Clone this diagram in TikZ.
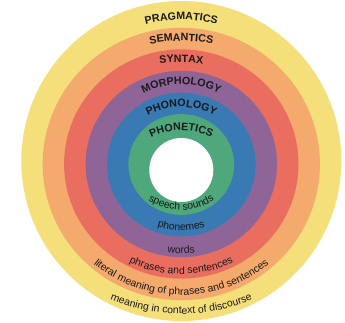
\documentclass[tikz,border=0pt]{standalone}
\usepackage{fontspec}
\setmainfont{Liberation Sans}
\usetikzlibrary{decorations.text}
\definecolor{cYellow}{HTML}{F5DF7A}
\definecolor{cOrange}{HTML}{F4A96D}
\definecolor{cRed}{HTML}{E96E5F}
\definecolor{cPurple}{HTML}{8F6598}
\definecolor{cBlue}{HTML}{3979B4}
\definecolor{cGreen}{HTML}{4EA87B}
\definecolor{labeltext}{HTML}{1A1A1A}
\newcommand\TopFont{\fontsize{10.7}{12}\selectfont\bfseries}
\newcommand\BotFont{\fontsize{10.4}{12}\selectfont}
% #1 arc centre y, #2 radius, #3 half angle, #4 text
\newcommand\TopArcLabel[4]{%
  \path[decorate,decoration={text along path,text align=center,text color=labeltext,
    text={|\TopFont|#4}}]
    (181.3,#1) ++(90+#3:#2) arc[start angle=90+#3,end angle=90-#3,radius=#2];}
\newcommand\BotArcLabel[4]{%
  \path[decorate,decoration={text along path,text align=center,text color=labeltext,
    text={|\BotFont|#4}}]
    (181.3,#1) ++(270-#3:#2) arc[start angle=270-#3,end angle=270+#3,radius=#2];}
\begin{document}
\begin{tikzpicture}[x=1pt,y=1pt]
\useasboundingbox (0,0) rectangle (345,322);
\fill[cYellow] (181.3,161) circle[radius=160];
\fill[cOrange] (181.3,158) ellipse[x radius=138.6,y radius=136.2];
\fill[cRed]    (181.3,158) ellipse[x radius=117.2,y radius=114.6];
\fill[cPurple] (181.3,158) ellipse[x radius=95.7,y radius=93.2];
\fill[cBlue]   (181.3,157.5) ellipse[x radius=74.3,y radius=71.8];
\fill[cGreen]  (181.3,157.5) ellipse[x radius=52.9,y radius=50.4];
\fill[white]   (181.3,152) circle[radius=32];
% top labels
\TopArcLabel{160.2}{142}{40}{PRAGMATICS}
\TopArcLabel{131}{150}{35}{SEMANTICS}
\TopArcLabel{59.5}{200}{25}{SYNTAX}
\TopArcLabel{155.5}{82}{70}{MORPHOLOGY}
\TopArcLabel{143}{72}{70}{PHONOLOGY}
\TopArcLabel{121.5}{70}{70}{PHONETICS}
% bottom labels
\BotArcLabel{172}{60}{75}{speech sounds}
\BotArcLabel{171.5}{80}{50}{phonemes}
\BotArcLabel{158.5}{90}{40}{words}
\BotArcLabel{173}{125}{50}{phrases and sentences}
\BotArcLabel{167}{140}{70}{literal meaning of phrases and sentences}
\BotArcLabel{188}{180}{40}{meaning in context of discourse}
\end{tikzpicture}
\end{document}
